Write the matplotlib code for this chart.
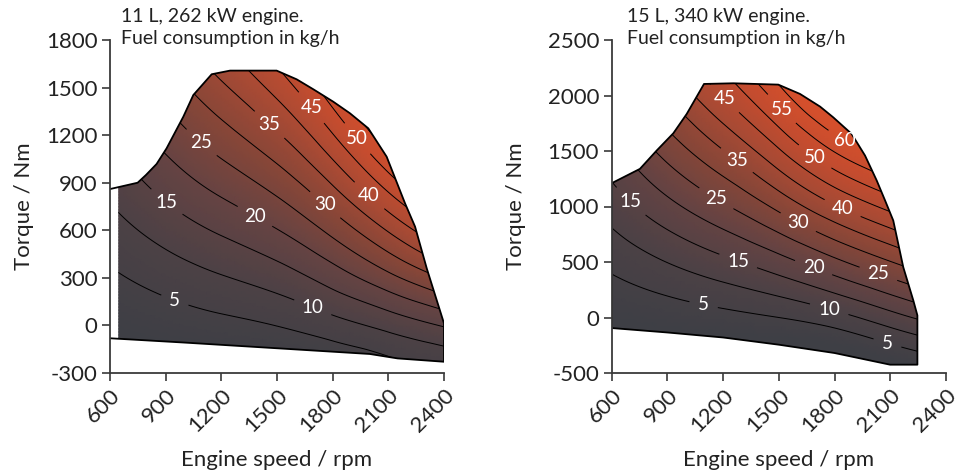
import numpy as np
import matplotlib
matplotlib.use('Agg')
import matplotlib.pyplot as plt
import matplotlib.tri as mtri
from matplotlib.colors import LinearSegmentedColormap, Normalize
from matplotlib.patches import Polygon

plt.rcParams['font.family'] = ['Lato', 'DejaVu Sans']
plt.rcParams['axes.unicode_minus'] = False

# ─────────────────────────────────────────────
# DATA: 11 L, 262 kW engine
# ─────────────────────────────────────────────
speed_11 = [600, 900, 1200, 1500, 1800, 2100, 2400]
torque_11 = [-300, 0, 300, 600, 900, 1200, 1500, 1800]
# fuel consumption kg/h, rows = torque, cols = speed
fuel_11 = [
    [-3.5, -3.0, -2.6, -2.2, -1.2, 2.0, 4.0],
    [0.3, 2.0, 3.5, 5.1, 8.0, 11.5, 15.4],
    [4.1, 7.0, 9.6, 12.4, 17.2, 23.5, 30.5],
    [7.9, 12.0, 15.7, 19.8, 26.4, 35.4, 45.6],
    [11.6, 17.0, 21.9, 27.1, 35.5, 47.4, 60.8],
    [15.4, 22.0, 28.0, 34.4, 44.7, 59.4, 75.9],
    [19.2, 27.0, 34.1, 41.8, 53.9, 71.4, 91.0],
    [23.0, 32.0, 40.2, 49.1, 63.1, 83.3, 106.1],
]
full_speed_11 = [600, 749, 794, 851, 905, 995, 1049, 1148, 1247, 1498, 1606,
                 1696, 1803, 1893, 1992, 2091, 2190, 2244, 2307, 2400]
full_torque_11 = [860, 900, 949, 1018, 1117, 1316, 1453, 1584, 1607, 1607, 1552,
                  1489, 1411, 1338, 1243, 1064, 770, 623, 360, 13]
motor_speed_11 = [600, 1000, 1500, 2000, 2150, 2400]
motor_torque_11 = [-81, -108, -144, -180, -208, -229]
fill_start_11 = 645
labels_11 = [(950, 161), (914, 791), (1694, 118), (1376, 677), (1096, 1157),
             (1759, 760), (1435, 1233), (2001, 823), (1651, 1340), (1931, 1176)]

# ─────────────────────────────────────────────
# DATA: 15 L, 340 kW engine
# ─────────────────────────────────────────────
speed_15 = [600, 900, 1200, 1500, 1800, 2100, 2400]
torque_15 = [-500, 0, 500, 1000, 1500, 2000, 2500]
fuel_15 = [
    [-5.7, -6.5, -7.2, -8.1, -7.8, -3.8, 0.0],
    [0.3, 1.8, 3.3, 5.0, 8.0, 13.0, 18.0],
    [6.3, 10.1, 13.8, 18.1, 23.8, 29.8, 36.0],
    [12.3, 18.5, 24.3, 31.3, 39.5, 46.6, 54.0],
    [18.3, 26.8, 34.8, 44.4, 55.3, 63.4, 72.0],
    [24.3, 35.1, 45.3, 57.5, 71.0, 80.2, 90.0],
    [30.3, 43.4, 55.8, 70.6, 86.8, 97.0, 108.0],
]
full_speed_15 = [600, 752, 842, 932, 1004, 1097, 1255, 1497, 1614, 1722, 1793,
                 1892, 1964, 2027, 2072, 2116, 2170, 2224, 2246]
full_torque_15 = [1210, 1339, 1504, 1660, 1834, 2104, 2110, 2098, 2014, 1900, 1803,
                  1654, 1459, 1234, 1054, 874, 453, 154, 19]
motor_speed_15 = [600, 900, 1200, 1500, 1800, 2099, 2246]
motor_torque_15 = [-95, -135, -180, -245, -320, -425, -425]
labels_15 = [(708, 1054), (1165, 1078), (1273, 1414), (1201, 1960), (1506, 1864),
             (1695, 1450), (1847, 1558), (1844, 988), (1614, 889), (1282, 514),
             (1695, 484), (2036, 394), (1093, 100), (1772, 79), (2081, -251)]

levels = [5, 10, 15, 20, 25, 30, 35, 40, 45, 50, 55, 60]

cmap = LinearSegmentedColormap.from_list(
    'fuel', ['#3e3f45', '#4c4145', '#654343', '#874638', '#a94a34', '#c44c2f', '#d44f2c'])

fig = plt.figure(figsize=(9.61, 4.74), dpi=100)
ax1 = fig.add_axes([110 / 961, 1 - 373 / 474, 334 / 961, 333 / 474])
ax2 = fig.add_axes([611.7 / 961, 1 - 373 / 474, 334.3 / 961, 333 / 474])


def draw_map(ax, speed, torque, fuel, clip_verts, labels, vmax):
    S, T = np.meshgrid(speed, torque)
    tri = mtri.Triangulation(S.ravel(), T.ravel())
    refiner = mtri.UniformTriRefiner(tri)
    tri_f, z_f = refiner.refine_field(np.array(fuel).ravel(), subdiv=4)

    poly = Polygon(clip_verts, closed=True, transform=ax.transData,
                   facecolor='none', edgecolor='none')
    ax.add_patch(poly)

    mesh = ax.tripcolor(tri_f, z_f, shading='gouraud', cmap=cmap,
                        norm=Normalize(0, vmax), rasterized=True)
    mesh.set_clip_path(poly)

    cs = ax.tricontour(tri_f, z_f, levels=levels, colors='black', linewidths=0.7)
    txts = cs.clabel(fmt='%d', manual=labels, inline=True, inline_spacing=9,
                     colors='white', fontsize=13.5)
    for t in txts:
        t.set_rotation(0)
    cs.set_clip_path(poly)


def style_axes(ax, yticks):
    ax.set_xlim(600, 2400)
    ax.set_ylim(yticks[0], yticks[-1])
    ax.set_xticks(range(600, 2401, 300))
    ax.set_yticks(yticks)
    for s in ['top', 'right']:
        ax.spines[s].set_visible(False)
    for s in ['left', 'bottom']:
        ax.spines[s].set_color('#3a3a3a')
        ax.spines[s].set_linewidth(1.3)
    ax.tick_params(direction='out', length=6, width=1.2, color='#3a3a3a',
                   labelsize=16, labelcolor='#222222', pad=3)
    for lab in ax.get_xticklabels():
        lab.set_rotation(45)
        lab.set_ha('right')
        lab.set_va('top')
        lab.set_rotation_mode('anchor')
    ax.set_xlabel('Engine speed / rpm', fontsize=16, color='#222222', va='center')
    ax.set_ylabel('Torque / Nm', fontsize=16, color='#222222', va='center')
    ax.set_facecolor('none')


# ── left map ──
top_start = np.interp(fill_start_11, full_speed_11, full_torque_11)
bot_start = np.interp(fill_start_11, motor_speed_11, motor_torque_11)
clip_11 = [(fill_start_11, top_start)]
clip_11 += [(s, t) for s, t in zip(full_speed_11, full_torque_11) if s > fill_start_11]
clip_11 += [(s, t) for s, t in zip(motor_speed_11[::-1], motor_torque_11[::-1]) if s > fill_start_11]
clip_11 += [(fill_start_11, bot_start)]
draw_map(ax1, speed_11, torque_11, fuel_11, clip_11, labels_11, 58)
ax1.plot(full_speed_11 + motor_speed_11[::-1], full_torque_11 + motor_torque_11[::-1],
         color='black', lw=1.3, solid_joinstyle='round')
style_axes(ax1, list(range(-300, 1801, 300)))
ax1.xaxis.set_label_coords(0.5, -0.261)
ax1.yaxis.set_label_coords(-0.257, 0.5)

# ── right map ──
clip_15 = list(zip(full_speed_15, full_torque_15)) + list(zip(motor_speed_15[::-1], motor_torque_15[::-1]))
draw_map(ax2, speed_15, torque_15, fuel_15, clip_15, labels_15, 62)
outline = clip_15 + [clip_15[0]]
ax2.plot([p[0] for p in outline], [p[1] for p in outline],
         color='black', lw=1.3, solid_joinstyle='round')
style_axes(ax2, list(range(-500, 2501, 500)))
ax2.xaxis.set_label_coords(0.5, -0.261)
ax2.yaxis.set_label_coords(-0.286, 0.5)

# titles
for x0, name in [(121, '11 L, 262 kW engine.'), (627, '15 L, 340 kW engine.')]:
    fig.text(x0 / 961, 1 - 22 / 474, name, fontsize=14, color='#222222', va='baseline')
    fig.text(x0 / 961, 1 - 44 / 474, 'Fuel consumption in kg/h', fontsize=14,
             color='#222222', va='baseline')

fig.savefig('out.png', dpi=100)
